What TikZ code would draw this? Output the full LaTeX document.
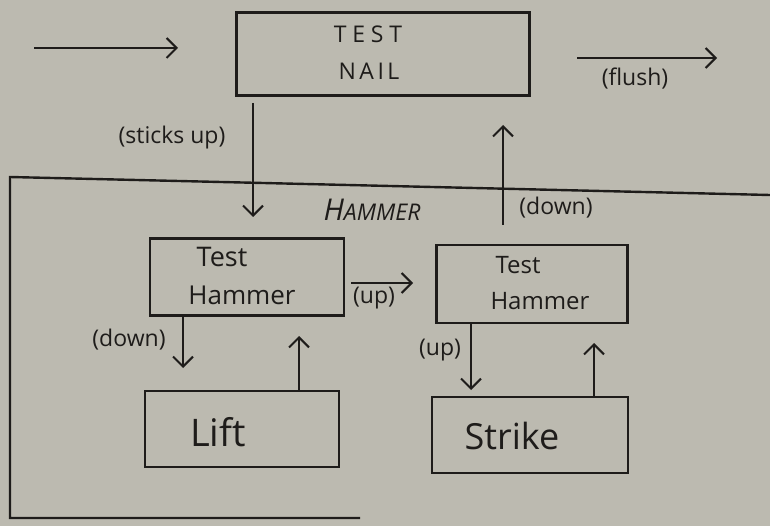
\documentclass[tikz,border=0pt]{standalone}
\usepackage{fontspec}
\setmainfont{Open Sans}
\usetikzlibrary{arrows.meta}
\definecolor{paper}{RGB}{188,186,176}
\definecolor{ink}{RGB}{30,28,26}
\tikzset{
  box/.style={draw=ink, line width=2.4pt, inner sep=0pt, text=ink},
  conn/.style={draw=ink, line width=2pt, -{Straight Barb[length=10pt,width=20pt,line width=2pt]}},
  lbl/.style={text=ink, font=\fontsize{23}{25}\selectfont, inner sep=0pt},
  txt/.style={text=ink, inner sep=0pt},
}
\begin{document}
\begin{tikzpicture}[x=1pt,y=-1pt]
\fill[paper] (0,0) rectangle (770,526);
\useasboundingbox (0,0) rectangle (770,526);
% outer HAMMER frame
\draw[ink, line width=2.4pt] (770,195) -- (10,177) -- (10,518) -- (360,518);
\node[txt, font=\itshape] (hammer) at (372,210) {\fontsize{30}{30}\selectfont H\fontsize{23}{23}\selectfont AMMER};
% TEST NAIL
\node[box, minimum width=293pt, minimum height=83pt] (nail) at (383,54) {};
\node[txt, font={\fontsize{23}{25}\selectfont\addfontfeature{LetterSpace=25}}] at (368,34) {TEST};
\node[txt, font={\fontsize{23}{25}\selectfont\addfontfeature{LetterSpace=15}}] at (369,71) {NAIL};
\coordinate (in) at (34,48);
\coordinate (inend) at (178,48);
\draw[conn] (in) -- (inend);
\coordinate (outst) at (577,58);
\coordinate (outend) at (717,58);
\draw[conn] (outst) -- (outend);
\node[lbl] (flush) at (635,79) {(flush)};
% boxes inside hammer
\node[box, minimum width=194pt, minimum height=77pt] (th1) at (247,277) {};
\node[txt, font=\fontsize{27}{27}\selectfont] at (222,257) {Test};
\node[txt, font=\fontsize{26}{26}\selectfont] at (242,295) {Hammer};
\node[box, minimum width=191pt, minimum height=78pt] (th2) at (532,284) {};
\node[txt, font=\fontsize{24}{24}\selectfont] at (518,265) {Test};
\node[txt, font=\fontsize{24}{24}\selectfont] at (540,301) {Hammer};
\node[box, minimum width=194pt, minimum height=76pt] (lift) at (242,429) {};
\node[txt, font=\fontsize{38}{38}\selectfont] at (218,432) {Lift};
\node[box, minimum width=196pt, minimum height=76pt] (strike) at (530,435) {};
\node[txt, font=\fontsize{36}{36}\selectfont] at (512,436) {Strike};
% sticks up
\coordinate (s1) at (253,103);
\coordinate (s2) at (253,217);
\draw[conn] (s1) -- (s2);
\node[lbl] (sticks) at (172,138) {(sticks up)};
% down from hammer to nail
\coordinate (d1) at (503,225);
\coordinate (d2) at (503,125);
\draw[conn] (d1) -- (d2);
\node[lbl] (down1) at (556,208) {(down)};
% up between test hammers
\coordinate (u1) at (351,283);
\coordinate (u2) at (413,283);
\draw[conn] (u1) -- (u2);
\node[lbl] (up1) at (374,298) {(up)};
% test hammer 1 down to lift
\draw[conn] (th1.south -| 183,0) -- (183,368);
\node[lbl] (down2) at (129,340) {(down)};
\draw[conn] (lift.north -| 299,0) -- (299,336);
% test hammer 2 up to strike
\draw[conn] (th2.south -| 471,0) -- (471,390);
\node[lbl] (up2) at (440,350) {(up)};
\draw[conn] (strike.north -| 594,0) -- (594,343);
\end{tikzpicture}
\end{document}
